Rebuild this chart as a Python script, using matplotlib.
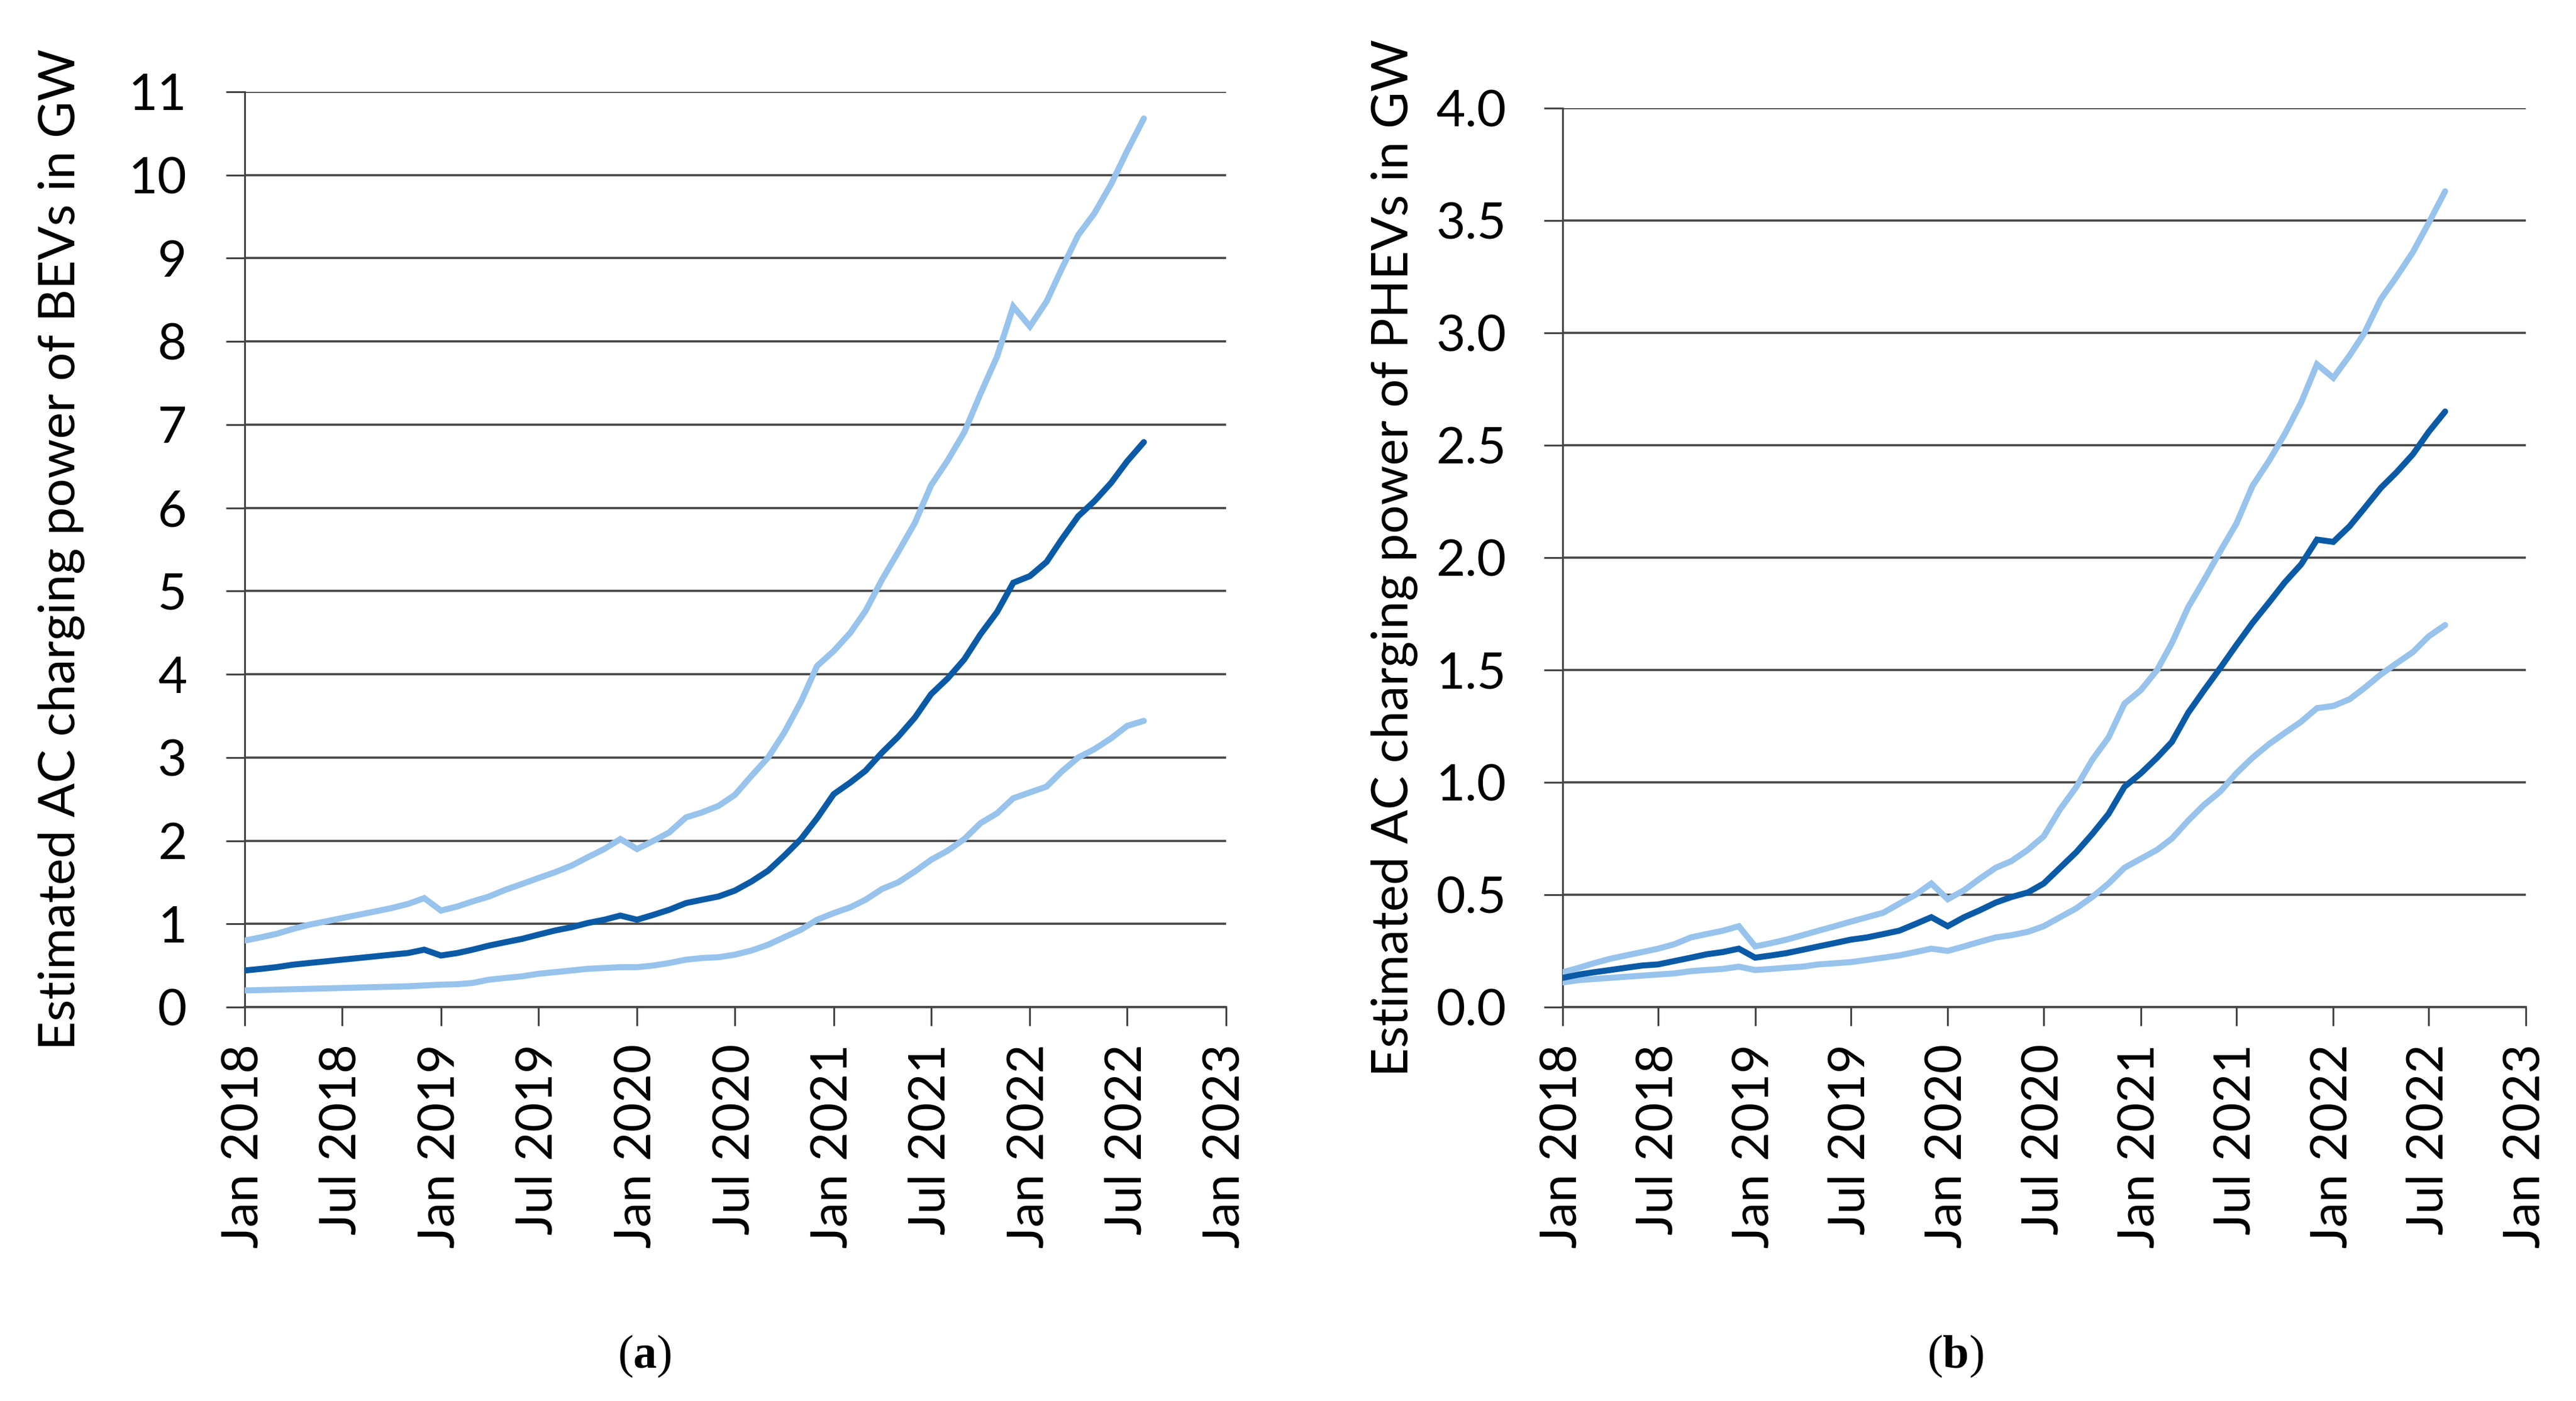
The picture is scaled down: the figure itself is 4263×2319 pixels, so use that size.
import matplotlib
matplotlib.use("Agg")
import matplotlib.pyplot as plt
import matplotlib.dates as mdates
import pandas as pd
from matplotlib.ticker import FormatStrFormatter

plt.rcParams['font.family'] = ['Lato', 'DejaVu Sans']
plt.rcParams['mathtext.fontset'] = 'custom'
plt.rcParams['mathtext.rm'] = 'Liberation Serif'
plt.rcParams['mathtext.bf'] = 'Liberation Serif:bold'

# ---- data (monthly, Jan 2018 - Aug 2022) ----
months = pd.date_range('2018-01-01', '2022-08-01', freq='MS')

bev_high = [0.80, 0.84, 0.88, 0.94, 0.99, 1.03, 1.07, 1.11, 1.15, 1.19, 1.24, 1.31,
            1.16, 1.21, 1.27, 1.33, 1.41, 1.48, 1.55, 1.62, 1.70, 1.80, 1.90, 2.02,
            1.90, 2.00, 2.10, 2.28, 2.34, 2.42, 2.55, 2.78, 3.00, 3.30, 3.67, 4.10,
            4.28, 4.50, 4.76, 5.14, 5.47, 5.82, 6.27, 6.57, 6.91, 7.37, 7.82, 8.42,
            8.18, 8.48, 8.87, 9.28, 9.54, 9.89, 10.29, 10.68]
bev_mid = [0.44, 0.46, 0.48, 0.51, 0.53, 0.55, 0.57, 0.59, 0.61, 0.63, 0.65, 0.69,
           0.62, 0.65, 0.69, 0.74, 0.78, 0.82, 0.87, 0.92, 0.96, 1.01, 1.05, 1.10,
           1.05, 1.11, 1.17, 1.25, 1.29, 1.33, 1.40, 1.51, 1.64, 1.82, 2.02, 2.27,
           2.56, 2.70, 2.84, 3.06, 3.25, 3.48, 3.76, 3.95, 4.18, 4.48, 4.75, 5.10,
           5.18, 5.35, 5.62, 5.90, 6.08, 6.30, 6.56, 6.79]
bev_low = [0.20, 0.205, 0.21, 0.215, 0.22, 0.225, 0.23, 0.235, 0.24, 0.245, 0.25, 0.26,
           0.27, 0.275, 0.29, 0.33, 0.35, 0.37, 0.40, 0.42, 0.44, 0.46, 0.47, 0.48,
           0.48, 0.50, 0.53, 0.57, 0.59, 0.60, 0.63, 0.68, 0.75, 0.84, 0.93, 1.05,
           1.13, 1.20, 1.29, 1.42, 1.50, 1.63, 1.77, 1.88, 2.02, 2.21, 2.33, 2.51,
           2.58, 2.65, 2.83, 3.00, 3.10, 3.23, 3.38, 3.44]

phev_high = [0.155, 0.175, 0.195, 0.215, 0.23, 0.245, 0.26, 0.28, 0.31, 0.325, 0.34, 0.36,
             0.27, 0.285, 0.30, 0.32, 0.34, 0.36, 0.38, 0.40, 0.42, 0.46, 0.50, 0.55,
             0.48, 0.52, 0.57, 0.62, 0.65, 0.70, 0.76, 0.88, 0.98, 1.10, 1.20, 1.35,
             1.41, 1.50, 1.62, 1.78, 1.90, 2.03, 2.15, 2.32, 2.43, 2.55, 2.69, 2.86,
             2.80, 2.90, 3.00, 3.15, 3.25, 3.36, 3.49, 3.63]
phev_mid = [0.13, 0.145, 0.155, 0.165, 0.175, 0.185, 0.19, 0.205, 0.22, 0.235, 0.245, 0.26,
            0.22, 0.23, 0.24, 0.255, 0.27, 0.285, 0.30, 0.31, 0.325, 0.34, 0.37, 0.40,
            0.36, 0.40, 0.43, 0.465, 0.49, 0.51, 0.55, 0.62, 0.69, 0.77, 0.86, 0.98,
            1.04, 1.11, 1.18, 1.31, 1.41, 1.51, 1.61, 1.71, 1.80, 1.89, 1.97, 2.08,
            2.07, 2.14, 2.22, 2.31, 2.38, 2.46, 2.56, 2.65]
phev_low = [0.11, 0.12, 0.125, 0.13, 0.135, 0.14, 0.145, 0.15, 0.16, 0.165, 0.17, 0.18,
            0.165, 0.17, 0.175, 0.18, 0.19, 0.195, 0.20, 0.21, 0.22, 0.23, 0.245, 0.26,
            0.25, 0.27, 0.29, 0.31, 0.32, 0.335, 0.36, 0.40, 0.44, 0.49, 0.55, 0.62,
            0.66, 0.70, 0.75, 0.83, 0.90, 0.96, 1.04, 1.11, 1.17, 1.22, 1.27, 1.33,
            1.34, 1.37, 1.42, 1.48, 1.53, 1.58, 1.65, 1.70]

bev_yticks = list(range(0, 12))
phev_yticks = [0.0, 0.5, 1.0, 1.5, 2.0, 2.5, 3.0, 3.5, 4.0]
ylabel_a = 'Estimated AC charging power of BEVs in GW'
ylabel_b = 'Estimated AC charging power of PHEVs in GW'

LIGHT = '#97C3EC'
DARK = '#0B5AA6'
GRID = '#454545'

W, H = 4263, 2319
DPI = 100
fig = plt.figure(figsize=(W / DPI, H / DPI), dpi=DPI)

ax_a = fig.add_axes([405 / W, 1 - 1667 / H, (2029 - 405) / W, (1667 - 152) / H])
ax_b = fig.add_axes([2586 / W, 1 - 1667 / H, (4180 - 2586) / W, (1667 - 179) / H])


def style(ax, low, mid, high, ymax, yticks, ylabel, fmt, ypad, lpad):
    ax.plot(months, low, color=LIGHT, lw=7.2,
            solid_capstyle='round', solid_joinstyle='miter', zorder=3)
    ax.plot(months, high, color=LIGHT, lw=7.2,
            solid_capstyle='round', solid_joinstyle='miter', zorder=3)
    ax.plot(months, mid, color=DARK, lw=7.2,
            solid_capstyle='round', solid_joinstyle='miter', zorder=4)
    ax.set_xlim(pd.Timestamp('2018-01-01'), pd.Timestamp('2023-01-01'))
    ax.set_ylim(0, ymax)
    ax.set_yticks(yticks)
    ax.yaxis.set_major_formatter(FormatStrFormatter(fmt))
    ax.xaxis.set_major_locator(mdates.MonthLocator(bymonth=[1, 7]))
    ax.xaxis.set_major_formatter(mdates.DateFormatter('%b %Y'))
    for s in ['top', 'right']:
        ax.spines[s].set_visible(False)
    ax.spines['left'].set_color(GRID)
    ax.spines['left'].set_linewidth(2.2)
    ax.spines['bottom'].set_color(GRID)
    ax.spines['bottom'].set_linewidth(2.6)
    ax.grid(axis='y', color=GRID, lw=2.6, zorder=1)
    ax.set_axisbelow(True)
    ax.tick_params(axis='both', direction='out', length=22, width=2.2,
                   color=GRID, labelsize=60, labelcolor='black')
    ax.tick_params(axis='y', pad=ypad)
    ax.tick_params(axis='x', pad=22)
    for lab in ax.get_xticklabels():
        lab.set_rotation(90)
    ax.set_ylabel(ylabel, fontsize=60, labelpad=lpad)


style(ax_a, bev_low, bev_mid, bev_high, 11, bev_yticks, ylabel_a, '%d', 47, 52)
style(ax_b, phev_low, phev_mid, phev_high, 4.0, phev_yticks, ylabel_b, '%.1f', 45, 22)

fig.text(1067 / W, 1 - 2245 / H, r'($\mathbf{a}$)', ha='center', va='center',
         fontsize=56, family='Liberation Serif')
fig.text(3236 / W, 1 - 2245 / H, r'($\mathbf{b}$)', ha='center', va='center',
         fontsize=56, family='Liberation Serif')

fig.savefig('out.png', dpi=DPI, facecolor='white')
